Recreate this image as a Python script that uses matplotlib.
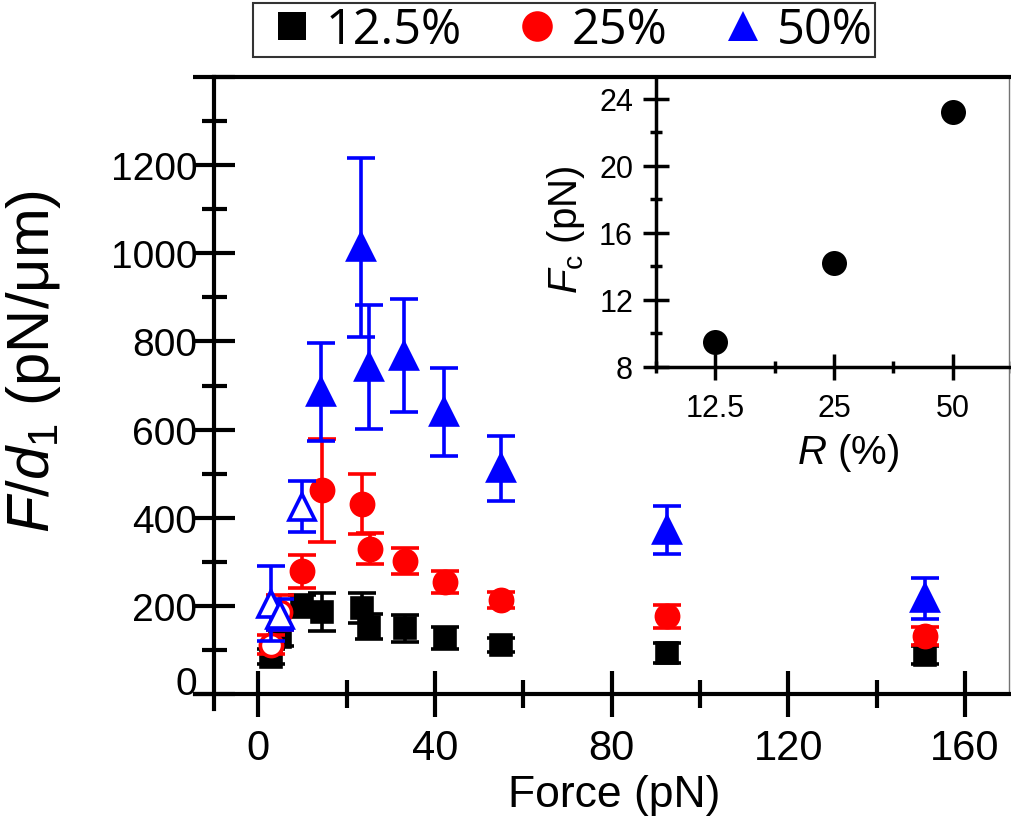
import matplotlib
matplotlib.use('Agg')
import matplotlib.pyplot as plt
from matplotlib.lines import Line2D
from matplotlib.ticker import FixedLocator, FuncFormatter, MultipleLocator

plt.rcParams['font.family'] = ['Liberation Sans', 'DejaVu Sans']
plt.rcParams['mathtext.fontset'] = 'custom'
plt.rcParams['mathtext.rm'] = 'Liberation Sans'
plt.rcParams['mathtext.it'] = 'Liberation Sans:italic'
plt.rcParams['mathtext.bf'] = 'Liberation Sans:bold'

# ---------------- data ----------------
series_labels = ['12.5%', '25%', '50%']

force_black = [2.8, 5.0, 9.9, 14.4, 23.4, 25.0, 33.2, 42.2, 55.0, 92.5, 151.0]
fd_black = [85, 130, 199, 187, 195, 153, 149, 128, 111, 93, 89]
err_black = [17, 20, 25, 43, 35, 28, 30, 25, 15, 22, 20]

force_red_open = [2.8, 5.0]
fd_red_open = [112, 185]
err_red_open = [22, 40]
force_red = [9.9, 14.4, 23.4, 25.3, 33.2, 42.2, 55.0, 92.5, 151.0]
fd_red = [278, 462, 432, 330, 302, 255, 213, 176, 131]
err_red = [38, 117, 68, 35, 29, 25, 18, 26, 20]

force_blue_open = [2.8, 5.0, 9.9]
fd_blue_open = [205, 180, 425]
err_blue_open = [85, 35, 58]
force_blue = [14.3, 23.3, 25.1, 33.0, 42.0, 55.0, 92.5, 151.0]
fd_blue = [685, 1014, 742, 768, 640, 512, 372, 217]
err_blue = [112, 203, 140, 128, 100, 73, 55, 47]

inset_R = ['12.5', '25', '50']
inset_Fc = [9.5, 14.2, 23.2]

x_major = [0, 40, 80, 120, 160]
y_major = [0, 200, 400, 600, 800, 1000, 1200, 1400]
inset_y_major = [8, 12, 16, 20, 24]

# ---------------- figure ----------------
W, H = 1011, 829
fig = plt.figure(figsize=(W / 100, H / 100), dpi=100)

L, R_, T, B = 214, 1009, 78, 695
ax = fig.add_axes([L / W, 1 - B / H, (R_ - L) / W, (B - T) / H])

ekw = dict(elinewidth=2.6, capsize=10, capthick=2.6, ls='none')

ax.errorbar(force_black, fd_black, yerr=err_black, fmt='s', color='black',
            ms=15, mew=2.6, zorder=3, **ekw)
ax.errorbar(force_red_open, fd_red_open, yerr=err_red_open, fmt='o', color='red',
            mfc='white', mec='red', ms=16, mew=2.6, zorder=4, **ekw)
ax.errorbar(force_red, fd_red, yerr=err_red, fmt='o', color='red',
            ms=16, mew=2.6, zorder=4, **ekw)
ax.errorbar(force_blue_open, fd_blue_open, yerr=err_blue_open, fmt='^', color='blue',
            mfc='white', mec='blue', ms=19, mew=2.6, zorder=5, **ekw)
ax.errorbar(force_blue, fd_blue, yerr=err_blue, fmt='^', color='blue',
            ms=19, mew=2.6, zorder=5, **ekw)

ax.set_xlim(-10, 170)
ax.set_ylim(0, 1400)
ax.xaxis.set_major_locator(FixedLocator(x_major))
ax.xaxis.set_minor_locator(MultipleLocator(20))
ax.yaxis.set_major_locator(FixedLocator(y_major))
ax.yaxis.set_minor_locator(MultipleLocator(100))
ax.yaxis.set_major_formatter(FuncFormatter(lambda v, p: '' if v > 1300 else f'{int(v)}'))

for s in ['left', 'bottom', 'top']:
    ax.spines[s].set_linewidth(3)
ax.spines['right'].set_linewidth(1)
ax.spines['right'].set_color('0.45')
# Origin-style axis lines that run a little past the crossing point
ax.spines['bottom'].set_bounds(-14.3, 170)
ax.spines['left'].set_bounds(-34, 1400)

ax.tick_params(axis='x', which='major', direction='inout', length=33, width=3,
               labelsize=30, pad=8, top=False)
ax.tick_params(axis='x', which='minor', direction='inout', length=20, width=3, top=False)
ax.tick_params(axis='y', which='major', direction='inout', length=30, width=3,
               labelsize=28, pad=-3, right=False)
ax.tick_params(axis='y', which='minor', direction='inout', length=18, width=3, right=False)

ax.set_xlabel('Force (pN)', fontsize=32)
ax.xaxis.set_label_coords(0.504, -0.13)
ax.set_ylabel(r'$F/d_1$ (pN/μm)', fontsize=43)
ax.yaxis.set_label_coords(-0.19, 0.54)

fig.canvas.draw()
ax.get_yticklabels()[0].set_va('baseline')

# ---------------- inset ----------------
iL, iR, iT, iB = 656, 1012, 78, 368
axi = fig.add_axes([iL / W, 1 - iB / H, (iR - iL) / W, (iB - iT) / H])
axi.set_facecolor('none')
xpos = list(range(len(inset_R)))
axi.plot(xpos, inset_Fc, 'o', color='black', ms=18, mew=0)
axi.set_xlim(-0.5, 2.5)
axi.set_ylim(8, 25.3)
axi.set_xticks(xpos)
axi.set_xticklabels(inset_R)
axi.xaxis.set_minor_locator(MultipleLocator(0.5))
axi.yaxis.set_major_locator(FixedLocator(inset_y_major))
axi.yaxis.set_minor_locator(MultipleLocator(2))
axi.spines['top'].set_visible(False)
axi.spines['right'].set_visible(False)
axi.spines['left'].set_linewidth(2.5)
axi.spines['bottom'].set_linewidth(2.5)
axi.tick_params(axis='both', which='major', direction='inout', length=19, width=2.5,
                labelsize=22)
axi.tick_params(axis='x', which='major', pad=9)
axi.tick_params(axis='y', which='major', pad=7)
axi.tick_params(axis='both', which='minor', direction='inout', length=9, width=2.5)
axi.set_xlabel(r'$R$ (%)', fontsize=29)
axi.xaxis.set_label_coords(0.54, -0.22)
axi.set_ylabel(r'$F_\mathrm{c}$ (pN)', fontsize=29)
axi.yaxis.set_label_coords(-0.194, 0.476)

# ---------------- legend ----------------
handles = [
    Line2D([], [], ls='none', marker='s', ms=20, color='black', mew=0),
    Line2D([], [], ls='none', marker='o', ms=22, color='red', mew=0),
    Line2D([], [], ls='none', marker='^', ms=22, color='blue', mew=0),
]
leg = fig.legend(handles, series_labels, loc='upper left',
                 bbox_to_anchor=(253 / W, 1 - 4 / H), ncol=3, frameon=True,
                 fancybox=False, edgecolor='black', borderaxespad=0,
                 prop={'family': ['Open Sans', 'DejaVu Sans'], 'size': 35},
                 borderpad=0.05, handlelength=1.5, handletextpad=-0.05,
                 columnspacing=0.8)
leg.get_frame().set_linewidth(1.5)

fig.savefig('out.png', dpi=100)
